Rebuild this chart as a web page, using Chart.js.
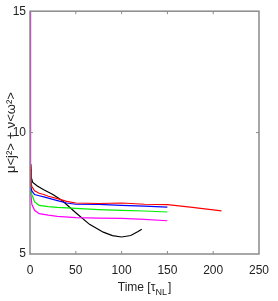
<!DOCTYPE html>
<html>
<head>
<meta charset="utf-8">
<script src="https://cdn.jsdelivr.net/npm/chart.js@4/dist/chart.umd.min.js"></script>
<style>
  html, body { margin: 0; padding: 0; background: #fff; }
  #wrap { width: 278px; height: 301px; }
</style>
</head>
<body>
<div id="wrap"><canvas id="chart" width="278" height="301"></canvas></div>
<script>
// values
const xTicks = [0, 50, 100, 150, 200, 250];
const yTicks = [5, 10, 15];

const tRed = [0, 1, 2, 5, 10, 15, 20, 30, 40, 50, 75, 100, 125, 150, 175, 200, 209];
const vRed = [8.6, 7.95, 7.78, 7.6, 7.5, 7.45, 7.38, 7.28, 7.17, 7.1, 7.08, 7.1, 7.05, 7.03, 6.93, 6.82, 6.78];

const tBlue = [0, 1, 2, 5, 10, 15, 20, 30, 40, 50, 75, 100, 125, 150];
const vBlue = [8.5, 7.75, 7.6, 7.45, 7.4, 7.35, 7.3, 7.2, 7.1, 7.05, 7.04, 7.0, 6.97, 6.93];

const tGreen = [0, 1, 2, 3, 5, 10, 20, 30, 50, 75, 100, 125, 150];
const vGreen = [8.4, 7.6, 7.45, 7.35, 7.15, 7.0, 6.95, 6.92, 6.88, 6.83, 6.8, 6.77, 6.73];

const tMagenta = [0, 0.3, 1, 2, 5, 10, 20, 30, 50, 75, 100, 125, 150];
const vMagenta = [15, 9.5, 7.6, 7.05, 6.8, 6.66, 6.6, 6.55, 6.5, 6.48, 6.47, 6.43, 6.37];

const tBlack = [0, 1, 3, 8, 15, 25, 35, 50, 65, 80, 90, 100, 110, 118, 122];
const vBlack = [8.7, 8.2, 7.95, 7.8, 7.65, 7.45, 7.2, 6.7, 6.22, 5.9, 5.76, 5.7, 5.76, 5.93, 6.02];

const tickFont = "'Liberation Sans', Arial, sans-serif";

function pts(t, v) {
    return t.map((x, i) => ({ x: x, y: v[i] }));
}

function line(t, v, color) {
    return {
        data: pts(t, v),
        borderColor: color,
        borderWidth: 1.2,
        pointRadius: 0,
        showLine: true,
        fill: false,
        tension: 0
    };
}

// gray box with inward ticks, plus the x title with subscript
const boxPlugin = {
    id: 'box',
    afterDatasetsDraw(chart) {
        const { ctx, chartArea: a, scales } = chart;
        ctx.save();
        ctx.strokeStyle = '#8a8a8a';
        ctx.lineWidth = 1.5;
        ctx.strokeRect(a.left, a.top, a.right - a.left, a.bottom - a.top);
        ctx.lineWidth = 1;
        ctx.beginPath();
        xTicks.slice(1, -1).forEach(v => {
            const x = scales.x.getPixelForValue(v);
            ctx.moveTo(x, a.bottom); ctx.lineTo(x, a.bottom - 3);
            ctx.moveTo(x, a.top); ctx.lineTo(x, a.top + 3);
        });
        yTicks.slice(1, -1).forEach(v => {
            const y = scales.y.getPixelForValue(v);
            ctx.moveTo(a.left, y); ctx.lineTo(a.left + 3, y);
            ctx.moveTo(a.right, y); ctx.lineTo(a.right - 3, y);
        });
        ctx.stroke();

        // x title: Time [τ_NL]
        ctx.fillStyle = '#222';
        ctx.textBaseline = 'alphabetic';
        const big = '12px ' + tickFont;
        const small = '9px ' + tickFont;
        ctx.font = big;
        const w1 = ctx.measureText('Time [τ').width;
        const w3 = ctx.measureText(']').width;
        ctx.font = small;
        const w2 = ctx.measureText('NL').width + 1;
        let x = (a.left + a.right) / 2 - (w1 + w2 + w3) / 2;
        const base = 291;
        ctx.font = big;
        ctx.fillText('Time [τ', x, base);
        x += w1;
        ctx.font = small;
        ctx.fillText('NL', x, base + 4);
        x += w2;
        ctx.font = big;
        ctx.fillText(']', x, base);
        ctx.restore();
    }
};

new Chart(document.getElementById('chart'), {
    type: 'scatter',
    data: {
        datasets: [
            line(tRed, vRed, '#ff0000'),
            line(tBlue, vBlue, '#0000ff'),
            line(tGreen, vGreen, '#00ee00'),
            line(tMagenta, vMagenta, '#ff00ff'),
            line(tBlack, vBlack, '#000000')
        ]
    },
    options: {
        responsive: false,
        animation: false,
        layout: { padding: { left: 0, right: 8.5, top: 5, bottom: 0 } },
        plugins: {
            legend: { display: false },
            tooltip: { enabled: false }
        },
        scales: {
            x: {
                type: 'linear',
                min: 0,
                max: 250,
                border: { display: false },
                grid: { display: false, drawTicks: false },
                afterBuildTicks: (s) => { s.ticks = xTicks.map(v => ({ value: v })); },
                afterFit: (s) => { s.height = 47; },
                ticks: {
                    padding: 9,
                    maxRotation: 0,
                    color: '#222',
                    font: { family: tickFont, size: 12 }
                }
            },
            y: {
                type: 'linear',
                min: 5,
                max: 15,
                border: { display: false },
                grid: { display: false, drawTicks: false },
                afterBuildTicks: (s) => { s.ticks = yTicks.map(v => ({ value: v })); },
                afterFit: (s) => { s.width = 30; },
                ticks: {
                    padding: 4,
                    color: '#222',
                    font: { family: tickFont, size: 12 }
                },
                title: {
                    display: true,
                    text: 'μ<j²> + ν<ω²>',
                    color: '#222',
                    padding: { top: 4, bottom: 0 },
                    font: { family: tickFont, size: 13 }
                }
            }
        }
    },
    plugins: [boxPlugin]
});
</script>
</body>
</html>
